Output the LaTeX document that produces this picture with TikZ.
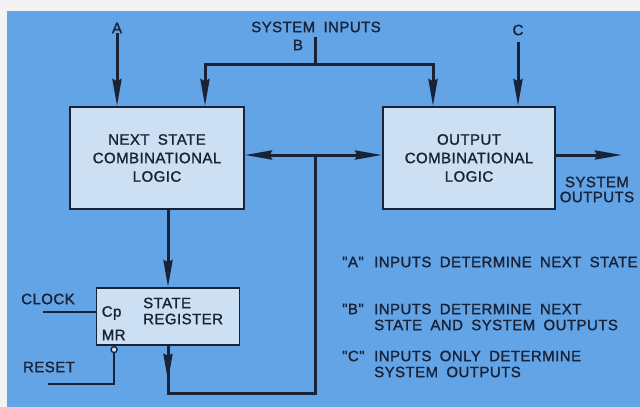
\documentclass[tikz,border=0pt]{standalone}
\usepackage{fontspec}
\newfontfamily\lettering[LetterSpace=3,WordSpace=1.8,FakeBold=1.4]{Liberation Sans}
\usetikzlibrary{arrows.meta}
\definecolor{panel}{RGB}{98,164,229}
\definecolor{paper}{RGB}{243,243,243}
\definecolor{boxfill}{RGB}{204,223,243}
\definecolor{ink}{RGB}{26,34,56}
\tikzset{
  lbl/.style={text=ink, inner sep=0pt, font=\lettering\fontsize{15}{18.5}\selectfont},
  logicbox/.style={lbl, draw=ink, fill=boxfill, line width=1.8pt, minimum width=174pt, minimum height=102pt, align=center},
  wire/.style={draw=ink, line width=1.8pt},
  bus/.style={draw=ink, line width=3pt},
}
\begin{document}
\begin{tikzpicture}[x=1pt, y=-1pt, >={Stealth[length=27pt,width=9pt,inset=2pt]}]
  \useasboundingbox (0,0) rectangle (640,407);
  \fill[paper] (0,0) rectangle (640,407);
  \fill[panel] (7,11) rectangle (640,407);
  % logic blocks and state register
  \node[logicbox] (ns) at (157,158) {NEXT STATE\\COMBINATIONAL\\LOGIC};
  \node[logicbox, minimum width=172pt] (out) at (469,158) {OUTPUT\\COMBINATIONAL\\LOGIC};
  \node[logicbox, minimum width=143pt, minimum height=57pt] (reg) at (168,316.5) {};
  \node[lbl, anchor=west, align=left, font=\lettering\fontsize{15}{16}\selectfont] (regname) at ([xshift=-25pt,yshift=5.5pt]reg.center) {STATE\\REGISTER};
  \node[lbl, anchor=west] (cp) at ([xshift=6pt,yshift=3.5pt]reg.west) {Cp};
  \node[lbl, anchor=west] (mr) at ([xshift=6pt,yshift=-18.5pt]reg.west) {MR};
  % system inputs A, B, C
  \node[lbl] (ina) at (117,28) {A};
  \node[lbl] (sysin) at (316,27) {SYSTEM INPUTS};
  \node[lbl] (inb) at (298,45) {B};
  \node[lbl] (inc) at (518,30) {C};
  \coordinate (bstem) at (315,37);
  \coordinate (bjoin) at (315,64);
  \draw[bus, ->] (ina.south) -- (ina.south |- ns.north);
  \draw[bus] (bstem) -- (bjoin);
  \draw[bus, ->] (bjoin) -| ([xshift=48pt]ns.north);
  \draw[bus, ->] (bjoin) -| ([xshift=-36pt]out.north);
  \draw[bus, ->] ([yshift=-6pt]inc.south) -- (inc.south |- out.north);
  % state bus
  \coordinate (jn) at (315,155);
  \coordinate (loop) at (315,393);
  \draw[bus, <->] ([yshift=3pt]ns.east) -- ([yshift=3pt]out.west);
  \draw[bus] (jn) -- (loop) -| (reg.south);
  \draw[bus, ->] (reg.south) -- ([yshift=-35pt]reg.south);
  \draw[bus, ->] (ns.south -| reg.north) -- (reg.north);
  % system outputs
  \coordinate (sysout) at (622,155);
  \draw[bus, ->] ([yshift=3pt]out.east) -- (sysout);
  \node[lbl, align=center, font=\lettering\fontsize{15}{15}\selectfont] (outlbl) at (597,189.5) {SYSTEM\\OUTPUTS};
  % clock and reset
  \node[lbl] (clock) at (48,299) {CLOCK};
  \node[lbl] (reset) at (49,367) {RESET};
  \coordinate (clkin) at (43,312);
  \coordinate (rstin) at (48,384);
  \node[draw=ink, fill=boxfill, circle, line width=1.4pt, minimum size=6pt, inner sep=0pt, anchor=north] (bubble) at ([xshift=18.5pt]reg.south west) {};
  \draw[wire] (clkin) -- (clkin -| reg.west);
  \draw[wire] (rstin) -| (bubble.south);
  % notes
  \node[lbl, anchor=west] (qa) at (342,262) {"A"};
  \node[lbl, anchor=west] (nota) at (374,262) {INPUTS DETERMINE NEXT STATE};
  \node[lbl, anchor=west] (qb) at (342,309) {"B"};
  \node[lbl, anchor=west, align=left, font=\lettering\fontsize{15}{16}\selectfont] (notb) at (374,317) {INPUTS DETERMINE NEXT\\STATE AND SYSTEM OUTPUTS};
  \node[lbl, anchor=west] (qc) at (342,356) {"C"};
  \node[lbl, anchor=west, align=left, font=\lettering\fontsize{15}{16}\selectfont] (notc) at (374,364) {INPUTS ONLY DETERMINE\\SYSTEM OUTPUTS};
\end{tikzpicture}
\end{document}
